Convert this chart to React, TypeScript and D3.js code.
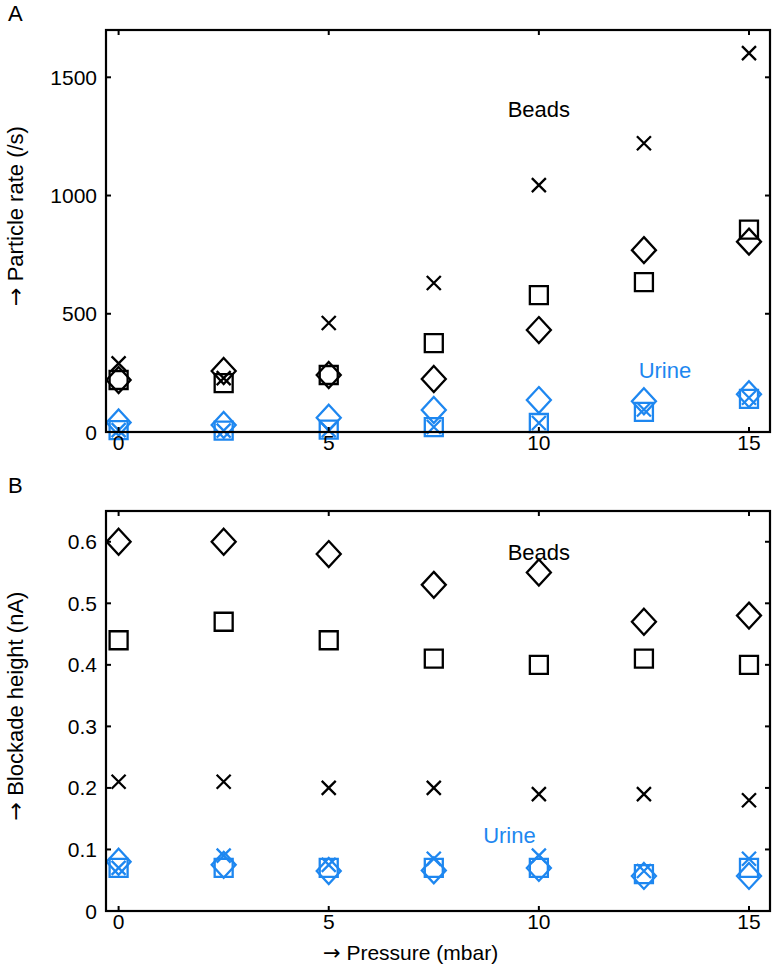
import React from "react";
import * as d3 from "d3";

const pressure = [0, 2.5, 5, 7.5, 10, 12.5, 15];

// Panel A: particle rate (/s)
const rateBeadsCross = [290, 228, 461, 630, 1044, 1221, 1602];
const rateBeadsSquare = [220, 207, 241, 376, 579, 634, 856];
const rateBeadsDiamond = [220, 258, 241, 224, 431, 769, 805];
const rateUrineDiamond = [40, 30, 60, 93, 135, 130, 160];
const rateUrineSquare = [8, 6, 10, 21, 38, 85, 140];
const rateUrineCross = [8, 6, 8, 21, 38, 95, 145];

// Panel B: blockade height (nA)
const heightBeadsDiamond = [0.6, 0.6, 0.58, 0.53, 0.55, 0.47, 0.48];
const heightBeadsSquare = [0.44, 0.47, 0.44, 0.41, 0.4, 0.41, 0.4];
const heightBeadsCross = [0.21, 0.21, 0.2, 0.2, 0.19, 0.19, 0.18];
const heightUrineDiamond = [0.08, 0.075, 0.065, 0.066, 0.07, 0.057, 0.057];
const heightUrineSquare = [0.07, 0.07, 0.07, 0.07, 0.07, 0.06, 0.07];
const heightUrineCross = [0.07, 0.09, 0.075, 0.085, 0.09, 0.065, 0.085];

const xTicks = [0, 5, 10, 15];
const yTicksA = [0, 500, 1000, 1500];
const yTicksB = [0, 0.1, 0.2, 0.3, 0.4, 0.5, 0.6];

const BLACK = "#000";
const BLUE = "#1e87f0";
const FONT = "'Liberation Sans', Arial, Helvetica, sans-serif";
const ARROW_FONT = "'DejaVu Sans', sans-serif";
const FS = 21;

const W = 773;
const H = 966;
const LEFT = 106;
const RIGHT = 770;

type Marker = "diamond" | "square" | "cross";

function markerPath(m: Marker): string {
  if (m === "diamond") return "M0,-13L12,0L0,13L-12,0Z";
  if (m === "square") return "M-9,-9L9,-9L9,9L-9,9Z";
  return "M-7,-7L7,7M-7,7L7,-7";
}

function Series({ xs, ys, x, y, marker, color }: any) {
  return (
    <g>
      {xs.map((v: number, i: number) => (
        <path
          key={i}
          d={markerPath(marker)}
          transform={`translate(${x(v)},${y(ys[i])})`}
          fill="none"
          stroke={color}
          strokeWidth={2.3}
          strokeLinejoin="miter"
        />
      ))}
    </g>
  );
}

function ArrowLabel({ text, ...rest }: any) {
  return (
    <text {...rest}>
      <tspan fontFamily={ARROW_FONT}>{"\u2192"}</tspan>
      <tspan fontFamily={FONT}>{" " + text}</tspan>
    </text>
  );
}

function Panel({ top, bottom, yDomain, yTicks, yFmt, series, label, ylabel, texts }: any) {
  const x = d3.scaleLinear().domain([-0.3, 15.5]).range([LEFT, RIGHT]);
  const y = d3.scaleLinear().domain(yDomain).range([bottom, top]);
  const tl = 5;
  return (
    <g>
      {series.map((s: any, i: number) => (
        <Series key={i} xs={pressure} ys={s.values} x={x} y={y} marker={s.marker} color={s.color} />
      ))}
      <rect x={LEFT} y={top} width={RIGHT - LEFT} height={bottom - top} fill="none" stroke="#000" strokeWidth={2.2} />
      {xTicks.map((t) => (
        <g key={"x" + t}>
          <line x1={x(t)} x2={x(t)} y1={bottom} y2={bottom - tl} stroke="#000" strokeWidth={2} />
          <line x1={x(t)} x2={x(t)} y1={top} y2={top + tl} stroke="#000" strokeWidth={2} />
          <text x={x(t)} y={bottom + 18} fontSize={FS} fontFamily={FONT} textAnchor="middle">
            {t}
          </text>
        </g>
      ))}
      {yTicks.map((t: number) => (
        <g key={"y" + t}>
          <line x1={LEFT} x2={LEFT + tl} y1={y(t)} y2={y(t)} stroke="#000" strokeWidth={2} />
          <line x1={RIGHT} x2={RIGHT - tl} y1={y(t)} y2={y(t)} stroke="#000" strokeWidth={2} />
          <text x={LEFT - 9} y={y(t) + 7.5} fontSize={FS} fontFamily={FONT} textAnchor="end">
            {yFmt(t)}
          </text>
        </g>
      ))}
      {texts.map((tx: any, i: number) => (
        <text key={i} x={x(tx.x)} y={y(tx.y)} fontSize={22} fontFamily={FONT} textAnchor="middle" fill={tx.color}>
          {tx.text}
        </text>
      ))}
      <text x={8} y={label.y} fontSize={FS + 1} fontFamily={FONT}>
        {label.text}
      </text>
      <ArrowLabel
        text={ylabel.text}
        transform={`translate(23,${ylabel.y}) rotate(-90)`}
        fontSize={22}
        textAnchor="middle"
      />
    </g>
  );
}

export default function App() {
  const seriesA = [
    { values: rateBeadsCross, marker: "cross", color: BLACK },
    { values: rateBeadsSquare, marker: "square", color: BLACK },
    { values: rateBeadsDiamond, marker: "diamond", color: BLACK },
    { values: rateUrineDiamond, marker: "diamond", color: BLUE },
    { values: rateUrineSquare, marker: "square", color: BLUE },
    { values: rateUrineCross, marker: "cross", color: BLUE },
  ];
  const seriesB = [
    { values: heightBeadsDiamond, marker: "diamond", color: BLACK },
    { values: heightBeadsSquare, marker: "square", color: BLACK },
    { values: heightBeadsCross, marker: "cross", color: BLACK },
    { values: heightUrineDiamond, marker: "diamond", color: BLUE },
    { values: heightUrineSquare, marker: "square", color: BLUE },
    { values: heightUrineCross, marker: "cross", color: BLUE },
  ];
  return (
    <svg
      width={W}
      height={H}
      viewBox={`0 0 ${W} ${H}`}
      style={{ position: "absolute", left: 0, top: 0, background: "#fff" }}
    >
      <rect x={0} y={0} width={W} height={H} fill="#fff" />
      <Panel
        top={30}
        bottom={432}
        yDomain={[0, 1700]}
        yTicks={yTicksA}
        yFmt={(t: number) => String(t)}
        series={seriesA}
        label={{ text: "A", y: 21 }}
        ylabel={{ text: "Particle rate (/s)", y: 216 }}
        texts={[
          { text: "Beads", x: 10, y: 1330, color: BLACK },
          { text: "Urine", x: 13, y: 230, color: BLUE },
        ]}
      />
      <Panel
        top={511}
        bottom={911}
        yDomain={[0, 0.65]}
        yTicks={yTicksB}
        yFmt={(t: number) => (t === 0 ? "0" : d3.format(".1f")(t))}
        series={seriesB}
        label={{ text: "B", y: 493 }}
        ylabel={{ text: "Blockade height (nA)", y: 706 }}
        texts={[
          { text: "Beads", x: 10, y: 0.57, color: BLACK },
          { text: "Urine", x: 9.3, y: 0.11, color: BLUE },
        ]}
      />
      <ArrowLabel text="Pressure (mbar)" x={323} y={960} fontSize={FS} />
    </svg>
  );
}
